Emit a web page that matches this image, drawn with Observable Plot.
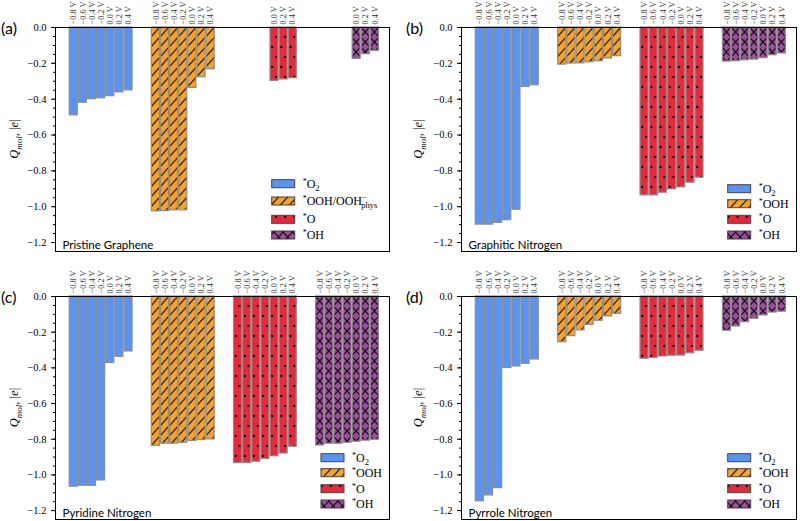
<!DOCTYPE html>
<html><head><meta charset="utf-8">
<script src="https://cdn.jsdelivr.net/npm/d3@7"></script>
<script src="https://cdn.jsdelivr.net/npm/@observablehq/plot@0.6"></script>
<style>
html,body{margin:0;padding:0;background:#fff;}
#root{position:relative;width:800px;height:521px;overflow:hidden;background:#fff;}
#root svg{position:absolute;overflow:visible;}
</style></head><body><div id="root"></div>
<script>
// ---------- data ----------
const potentials = ["−0.8 V","−0.6 V","−0.4 V","−0.2 V","0.0 V","0.2 V","0.4 V"];
const species = ["*O2","*OOH","*O","*OH"];
const colors = ["#5994f2","#f8a328","#e8293b","#9e4e9c"];
const hatches = ["", "/", ".", "x"];
const panelLetters = ["(a)","(b)","(c)","(d)"];
const panelNames = ["Pristine Graphene","Graphitic Nitrogen","Pyridine Nitrogen","Pyrrole Nitrogen"];
const yTicks = [0,-0.2,-0.4,-0.6,-0.8,-1.0,-1.2];
const yMinor = d3.range(0, 25).map(i => -i*0.05);

const pristineO2  = [-0.49, -0.42, -0.40, -0.395, -0.383, -0.362, -0.351];
const pristineOOH = [-1.026, -1.025, -1.02, -1.02, -0.337, -0.278, -0.233];
const pristineO   = [null, null, null, null, -0.298, -0.29, -0.283];
const pristineOH  = [null, null, null, null, -0.175, -0.149, -0.13];

const graphiticO2  = [-1.10, -1.10, -1.09, -1.075, -1.017, -0.332, -0.322];
const graphiticOOH = [-0.207, -0.201, -0.20, -0.194, -0.188, -0.173, -0.16];
const graphiticO   = [-0.937, -0.937, -0.922, -0.903, -0.892, -0.866, -0.838];
const graphiticOH  = [-0.19, -0.188, -0.183, -0.179, -0.171, -0.155, -0.145];

const pyridineO2  = [-1.066, -1.061, -1.061, -1.031, -0.373, -0.338, -0.308];
const pyridineOOH = [-0.837, -0.825, -0.825, -0.82, -0.81, -0.805, -0.801];
const pyridineO   = [-0.934, -0.934, -0.926, -0.911, -0.895, -0.88, -0.842];
const pyridineOH  = [-0.835, -0.825, -0.825, -0.82, -0.814, -0.808, -0.803];

const pyrroleO2  = [-1.148, -1.115, -1.074, -0.401, -0.392, -0.377, -0.353];
const pyrroleOOH = [-0.256, -0.222, -0.19, -0.159, -0.136, -0.112, -0.097];
const pyrroleO   = [-0.349, -0.344, -0.336, -0.332, -0.331, -0.318, -0.304];
const pyrroleOH  = [-0.192, -0.168, -0.144, -0.125, -0.106, -0.09, -0.085];

const legendA = ["*O2","*OOH/OOH-phys","*O","*OH"];
const legendN = ["*O2","*OOH","*O","*OH"];

// ---------- layout ----------
const panels = [
  {values:[pristineO2,pristineOOH,pristineO,pristineOH], legend:legendA,
   left:0, top:0, w:400, h:260, ml:55, mr:11, mt:27, mb:9, lx:271.7, lrows:[183.7,201,219.3,235], ylx:14, letx:1},
  {values:[graphiticO2,graphiticOOH,graphiticO,graphiticOH], legend:legendN,
   left:400, top:0, w:400, h:260, ml:61, mr:4, mt:27, mb:9, lx:327.7, lrows:[188.7,203.7,219.3,235], ylx:18, letx:6},
  {values:[pyridineO2,pyridineOOH,pyridineO,pyridineOH], legend:legendN,
   left:0, top:268, w:400, h:253, ml:55, mr:11, mt:28, mb:2, lx:321, lrows:[189.7,204.7,220.7,236], ylx:14, letx:1},
  {values:[pyrroleO2,pyrroleOOH,pyrroleO,pyrroleOH], legend:legendN,
   left:400, top:268, w:400, h:253, ml:61, mr:4, mt:28, mb:2, lx:327.7, lrows:[189.7,204.7,220.7,236], ylx:18, letx:6},
];

const serif = "'Liberation Serif','DejaVu Serif',serif";
const sans = "Lato,'Noto Sans',sans-serif";

function addPatterns(defs, k, x0, unit, y0) {
  const w = unit, s = 10;
  colors.forEach((c, g) => {
    const h = hatches[g];
    const ph = h === "." ? 2*s : s;
    const p = defs.append("pattern").attr("id", `pat-${k}-${g}`)
      .attr("patternUnits", "userSpaceOnUse").attr("x", x0).attr("y", y0)
      .attr("width", w).attr("height", ph);
    p.append("rect").attr("width", w).attr("height", ph).attr("fill", c);
    const ln = (d) => p.append("path").attr("d", d).attr("stroke", "#000")
      .attr("stroke-width", 1.1).attr("fill", "none").attr("stroke-linecap", "square");
    if (h === "/" || h === "x") {
      ln(`M0,${s}L${w},0`);
      ln(`M${-w},${s}L0,0M${w},${s}L${2*w},0`);
    }
    if (h === "x") {
      ln(`M0,0L${w},${s}`);
      ln(`M${-w},0L0,${s}M${w},0L${2*w},${s}`);
    }
    if (h === ".") {
      [[0.3*w,0],[0.3*w,2*s],[0.72*w,s]].forEach(([cx,cy]) =>
        p.append("circle").attr("cx", cx).attr("cy", cy).attr("r", 1.15).attr("fill", "#000"));
    }
  });
}

function richLabel(t, label) {
  t.append("tspan").attr("baseline-shift", "super").attr("font-size", "8px").text("*");
  const body = label.slice(1);
  if (body === "O2") {
    t.append("tspan").attr("baseline-shift", "0").text("O");
    t.append("tspan").attr("baseline-shift", "-3").attr("font-size", "8.5px").text("2");
  } else if (body === "OOH/OOH-phys") {
    t.append("tspan").attr("baseline-shift", "0").text("OOH/OOH");
    t.append("tspan").attr("baseline-shift", "super").attr("font-size", "8.5px").text("−");
    t.append("tspan").attr("dx", -5.5).attr("baseline-shift", "-3").attr("font-size", "8.5px").text("phys");
  } else {
    t.append("tspan").attr("baseline-shift", "0").text(body);
  }
}

const root = document.getElementById("root");

panels.forEach((P, k) => {
  const rows = [];
  species.forEach((s, g) => P.values[g].forEach((v, i) => {
    if (v != null) rows.push({species: s, g, i, pos: g*9 + i, value: v, label: potentials[i]});
  }));

  const svg = Plot.plot({
    width: P.w, height: P.h,
    marginLeft: P.ml, marginRight: P.mr, marginTop: P.mt, marginBottom: P.mb,
    x: {domain: [-2, 34.6], axis: null},
    y: {domain: [-1.25, 0], axis: null, label: null},
    color: {type: "identity"},
    style: {fontFamily: serif, fontSize: "10.5px", background: "transparent", color: "#000"},
    marks: [
      Plot.rectY(rows, {x1: d => d.pos - 0.44, x2: d => d.pos + 0.44, y1: 0, y2: "value",
        fill: d => `url(#pat-${k}-${d.g})`, stroke: "#8c8c8c", strokeWidth: 1.2}),
      Plot.axisY(yMinor, {tickSize: 2, tickFormat: () => "", label: null}),
      Plot.axisY(yTicks, {tickSize: 4, tickPadding: 5, label: null,
        tickFormat: d => (d < 0 ? "−" : "") + Math.abs(d).toFixed(1), fontSize: 10.5}),
      Plot.text(rows, {x: "pos", y: () => 0, text: "label", rotate: -90, textAnchor: "start",
        dy: -3, fontSize: 8.3, fill: "#333"}),
      Plot.text([panelNames[k]], {text: d => d, frameAnchor: "bottom-left", dx: 7, dy: -3,
        fontFamily: sans, fontSize: 11.5, fill: "#000"}),
      Plot.frame({stroke: "#000", strokeWidth: 1})
    ]
  });
  svg.style.left = P.left + "px";
  svg.style.top = P.top + "px";
  root.appendChild(svg);

  const xs = svg.scale("x");
  const unit = xs.apply(1) - xs.apply(0);
  const s = d3.select(svg);
  addPatterns(s.insert("defs", ":first-child"), k, xs.apply(-0.5), unit, P.mt);

  // panel letter
  s.append("text").attr("x", P.letx).attr("y", P.mt).attr("dominant-baseline", "central")
    .attr("text-anchor", "start")
    .attr("font-family", sans).attr("font-size", "16px").attr("fill", "#000").text(panelLetters[k]);

  // y label
  const cy = (P.mt + P.h - P.mb) / 2;
  const yl = s.append("text").attr("transform", `translate(${P.ylx},${cy}) rotate(-90)`)
    .attr("text-anchor", "middle").attr("dominant-baseline", "central")
    .attr("font-family", serif).attr("font-size", "12.5px").attr("fill", "#000");
  yl.append("tspan").attr("font-style", "italic").text("Q");
  yl.append("tspan").attr("font-style", "italic").attr("baseline-shift", "sub").attr("font-size", "9px").text("mol");
  yl.append("tspan").attr("baseline-shift", "0").text(", |");
  yl.append("tspan").attr("font-style", "italic").text("e");
  yl.append("tspan").text("|");

  // legend
  const lg = s.append("g").attr("text-anchor", "start");
  species.forEach((sp, g) => {
    const ry = P.lrows[g];
    lg.append("rect").attr("x", P.lx).attr("y", ry - 4).attr("width", 23).attr("height", 8)
      .attr("fill", `url(#pat-${k}-${g})`).attr("stroke", "#444").attr("stroke-width", 1);
    const t = lg.append("text").attr("x", P.lx + 31).attr("y", ry + 4)
      .attr("text-anchor", "start")
      .attr("font-family", serif).attr("font-size", "12px").attr("fill", "#000");
    richLabel(t, P.legend[g]);
  });
});
</script>
</body></html>
